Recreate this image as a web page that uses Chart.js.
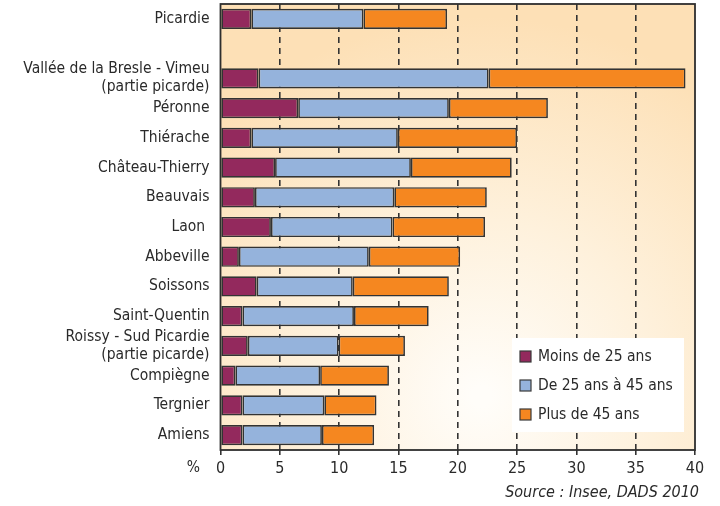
<!DOCTYPE html>
<html><head><meta charset="utf-8">
<script src="https://cdn.jsdelivr.net/npm/chart.js@4.4.0/dist/chart.umd.min.js"></script>
<style>html,body{margin:0;padding:0;background:#fff}#wrap{width:720px;height:506px;position:relative}</style>
</head><body><div id="wrap"><canvas id="c" width="720" height="506"></canvas></div>
<script>
const categories = [
  "Picardie", "",
  ["Vallée de la Bresle - Vimeu", "(partie picarde)"],
  "Péronne", "Thiérache", "Château-Thierry", "Beauvais", "Laon ",
  "Abbeville", "Soissons", "Saint-Quentin",
  ["Roissy - Sud Picardie", "(partie picarde)"],
  "Compiègne", "Tergnier", "Amiens"
];
const seriesNames = ["Moins de 25 ans", "De 25 ans à 45 ans", "Plus de 45 ans"];
const moins25 = [2.6, null, 3.2, 6.55, 2.6, 4.6, 2.9, 4.25, 1.55, 3.05, 1.85, 2.3, 1.25, 1.85, 1.85];
const de25a45 = [9.45, null, 19.4, 12.7, 12.35, 11.45, 11.75, 10.25, 10.95, 8.1, 9.4, 7.65, 7.15, 6.9, 6.7];
const plus45  = [7.05, null, 16.6, 8.35, 10.05, 8.5, 7.8, 7.8, 7.7, 8.1, 6.3, 5.6, 5.8, 4.4, 4.4];
const xTicks = [0, 5, 10, 15, 20, 25, 30, 35, 40];
const colors = ["#93295d", "#95b3dc", "#f58720"];
const FONT = "'DejaVu Sans Condensed', 'Liberation Sans Narrow', 'Liberation Sans', sans-serif";

const bgPlugin = {
  id: 'bg',
  beforeDraw(chart) {
    const {ctx, chartArea: a} = chart;
    const cx = a.left + (a.right - a.left) * 0.55, cy = a.bottom - (a.bottom - a.top) * 0.12;
    const g = ctx.createRadialGradient(cx, cy, 10, cx, cy, (a.right - a.left) * 0.8);
    g.addColorStop(0, '#fffdf9');
    g.addColorStop(0.45, '#fef1dc');
    g.addColorStop(1, '#fde0b6');
    ctx.save();
    ctx.fillStyle = g;
    ctx.fillRect(a.left, a.top, a.right - a.left, a.bottom - a.top);
    ctx.restore();
  },
  afterDraw(chart) {
    const {ctx, chartArea: a} = chart;
    ctx.save();
    ctx.strokeStyle = '#2e2e2e';
    ctx.lineWidth = 1.8;
    ctx.strokeRect(a.left, a.top, a.right - a.left, a.bottom - a.top);
    // legend
    const lx = a.right - 183, ly = a.bottom - 112, lw = 172, lh = 94;
    ctx.fillStyle = '#ffffff';
    ctx.fillRect(lx, ly, lw, lh);
    ctx.font = "15.5px " + FONT;
    ctx.textBaseline = 'middle';
    ctx.textAlign = 'left';
    chart.data.datasets.forEach((ds, i) => {
      const y = ly + 19 + i * 29;
      ctx.fillStyle = ds.backgroundColor;
      ctx.fillRect(lx + 8, y - 6, 11, 11);
      ctx.strokeStyle = '#3a3a3a';
      ctx.lineWidth = 1.2;
      ctx.strokeRect(lx + 8, y - 6, 11, 11);
      ctx.fillStyle = '#2a2a2a';
      ctx.fillText(ds.label, lx + 26, y);
    });
    // % and source
    ctx.fillStyle = '#2a2a2a';
    ctx.textAlign = 'center';
    ctx.fillText('%', a.left - 27, a.bottom + 18);
    ctx.textAlign = 'right';
    ctx.font = "italic 16px " + FONT;
    ctx.fillText('Source : Insee, DADS 2010', a.right + 4, a.bottom + 43);
    ctx.restore();
  }
};

new Chart(document.getElementById('c'), {
  type: 'bar',
  data: {
    labels: categories,
    datasets: [
      {label: seriesNames[0], data: moins25, backgroundColor: colors[0]},
      {label: seriesNames[1], data: de25a45, backgroundColor: colors[1]},
      {label: seriesNames[2], data: plus45, backgroundColor: colors[2]}
    ].map(d => Object.assign(d, {borderColor: '#333', borderWidth: 1.7, borderSkipped: false, barPercentage: 0.68, categoryPercentage: 1}))
  },
  options: {
    indexAxis: 'y',
    responsive: false,
    animation: false,
    layout: {padding: {left: 0, right: 25, top: 4, bottom: 0}},
    plugins: {legend: {display: false}, tooltip: {enabled: false}},
    scales: {
      x: {
        stacked: true, min: 0, max: 40,
        afterBuildTicks(s) { s.ticks = xTicks.map(v => ({value: v})); },
        afterFit(s) { s.height = 56; s.paddingLeft = 0; s.paddingRight = 0; },
        grid: {
          color: c => (c.tick && (c.tick.value === 0 || c.tick.value === 40)) ? 'rgba(0,0,0,0)' : '#333',
          lineWidth: 1.6, tickColor: '#333', tickBorderDash: [], tickLength: 5, drawTicks: true
        },
        border: {display: false, dash: [6, 5]},
        ticks: {color: '#2a2a2a', font: {family: FONT, size: 16}, padding: 4, maxRotation: 0}
      },
      y: {
        stacked: true,
        afterFit(s) { s.width = 220.5; s.paddingTop = 0; s.paddingBottom = 0; },
        grid: {display: false},
        border: {display: false},
        ticks: {color: '#2a2a2a', font: {family: FONT, size: 15.5, lineHeight: 1.15}, padding: 3, autoSkip: false}
      }
    }
  },
  plugins: [bgPlugin]
});
</script></body></html>
